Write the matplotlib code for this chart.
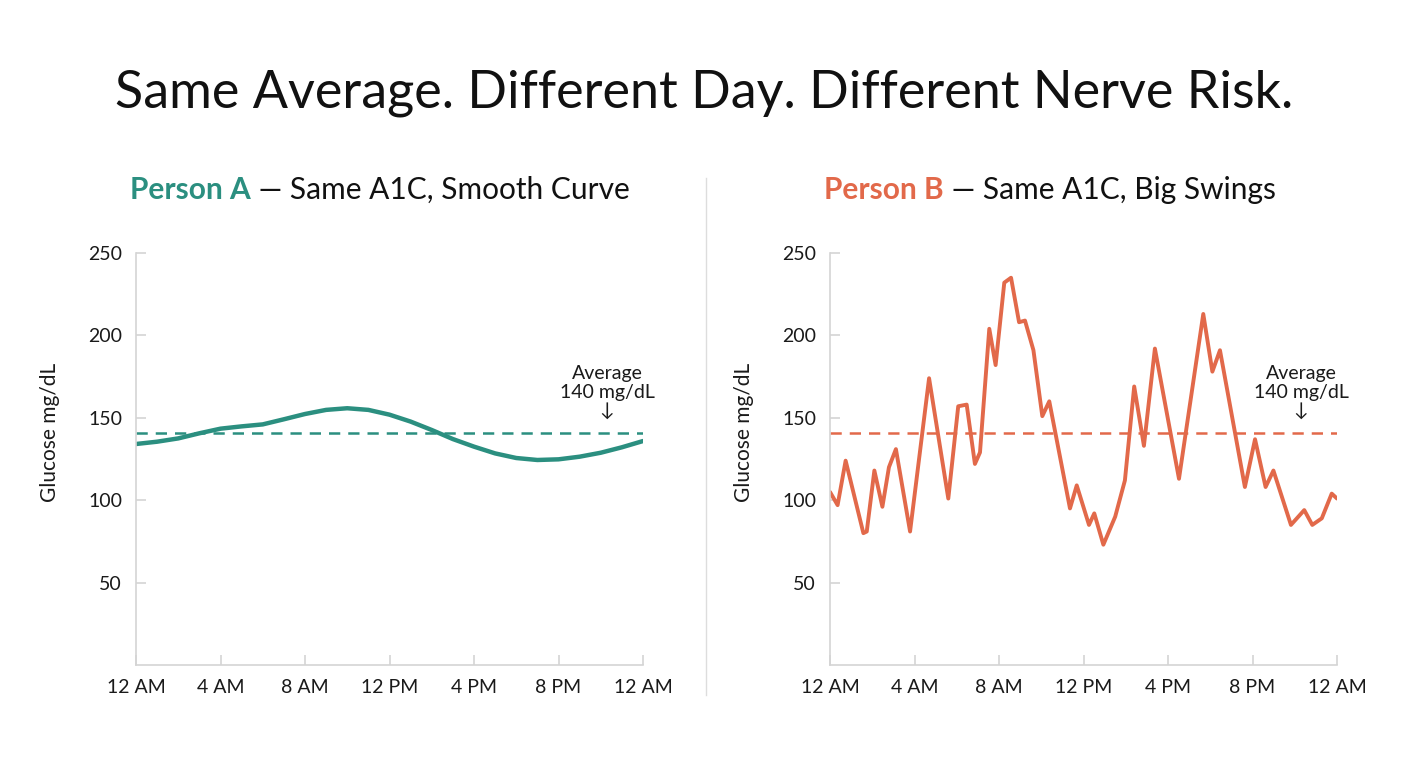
import matplotlib
matplotlib.use("Agg")
import matplotlib.pyplot as plt

plt.rcParams['font.family'] = ['Lato', 'DejaVu Sans']

# ---- data ----
hours_a = list(range(0, 25))
glucose_a = [134.1, 135.5, 137.5, 140.6, 143.4, 144.8, 146.0, 149.1, 152.3, 154.8,
             155.8, 154.8, 151.9, 147.7, 142.6, 137.1, 132.5, 128.4, 125.6, 124.4,
             124.8, 126.4, 128.8, 132.1, 135.9]

hours_b = [0.0, 0.36, 0.74, 1.58, 1.74, 2.1, 2.48, 2.79, 3.12, 3.79, 4.69, 5.6,
           6.07, 6.47, 6.86, 7.1, 7.54, 7.84, 8.25, 8.57, 8.95, 9.23, 9.63, 10.05,
           10.38, 11.36, 11.68, 12.26, 12.51, 12.94, 13.5, 13.96, 14.4, 14.86, 15.38,
           16.52, 17.67, 18.1, 18.46, 19.64, 20.12, 20.62, 20.99, 21.82, 22.45, 22.83,
           23.28, 23.75, 24.0]
glucose_b = [105, 97, 124, 80, 81, 118, 96, 120, 131, 81, 174, 101,
             157, 158, 122, 129, 204, 182, 232, 235, 208, 209, 191, 151,
             160, 95, 109, 85, 92, 73, 90, 112, 169, 133, 192,
             113, 213, 178, 191, 108, 137, 108, 118, 85, 94, 85,
             89, 104, 101]

average_line = 141
average_label = "Average\n140 mg/dL\n\u2193"
tick_hours = [0, 4, 8, 12, 16, 20, 24]
tick_labels = ["12 AM", "4 AM", "8 AM", "12 PM", "4 PM", "8 PM", "12 AM"]
y_ticks = [50, 100, 150, 200, 250]

teal = "#2b8f80"
orange = "#e2694a"
grid_grey = "#d4d4d4"

fig = plt.figure(figsize=(14.08, 7.68), dpi=100)
fig.patch.set_facecolor("white")

fig.text(0.5, 0.878, "Same Average. Different Day. Different Nerve Risk.",
         ha="center", va="center", fontsize=37.5, color="#111111")

# separator between panels
fig.add_artist(plt.Line2D([706 / 1408, 706 / 1408], [1 - 695 / 768, 1 - 178 / 768],
                          color="#dddddd", lw=1))


def make_panel(left_px, x, y, color, lw, name, rest):
    ax = fig.add_axes([left_px / 1408, 1 - 665 / 768, 507 / 1408, 412 / 768])
    ax.plot(x, y, color=color, lw=lw, solid_joinstyle="round", solid_capstyle="round")
    ax.axhline(average_line, color=color, lw=1.8, dashes=(4.5, 3.2))
    ax.set_xlim(0, 24)
    ax.set_ylim(0, 250)
    ax.set_xticks(tick_hours)
    ax.set_xticklabels(tick_labels)
    ax.set_yticks(y_ticks)
    for s in ["top", "right"]:
        ax.spines[s].set_visible(False)
    for s in ["left", "bottom"]:
        ax.spines[s].set_color(grid_grey)
        ax.spines[s].set_linewidth(1.2)
    ax.tick_params(direction="in", length=7, width=1.2, color=grid_grey,
                   labelsize=14, labelcolor="#1a1a1a", pad=10)
    ax.set_ylabel("Glucose mg/dL", fontsize=15, color="#1a1a1a")
    ax.yaxis.set_label_coords(-0.15, 0.565)
    ax.text(22.3, 149, average_label, ha="center", va="bottom", fontsize=14,
            color="#1a1a1a", linespacing=1.1)

    t = fig.text((left_px - 6) / 1408, 1 - 190 / 768, name, ha="left", va="center",
                 fontsize=21.5, fontweight="bold", color=color)
    ax.annotate(rest, xy=(1, 0.5), xycoords=t, ha="left", va="center",
                fontsize=21.5, color="#111111")
    return ax


make_panel(136, hours_a, glucose_a, teal, 3.2, "Person A", " \u2014 Same A1C, Smooth Curve")
make_panel(830, hours_b, glucose_b, orange, 2.8, "Person B", " \u2014 Same A1C, Big Swings")

fig.savefig("out.png", dpi=100, facecolor="white")
